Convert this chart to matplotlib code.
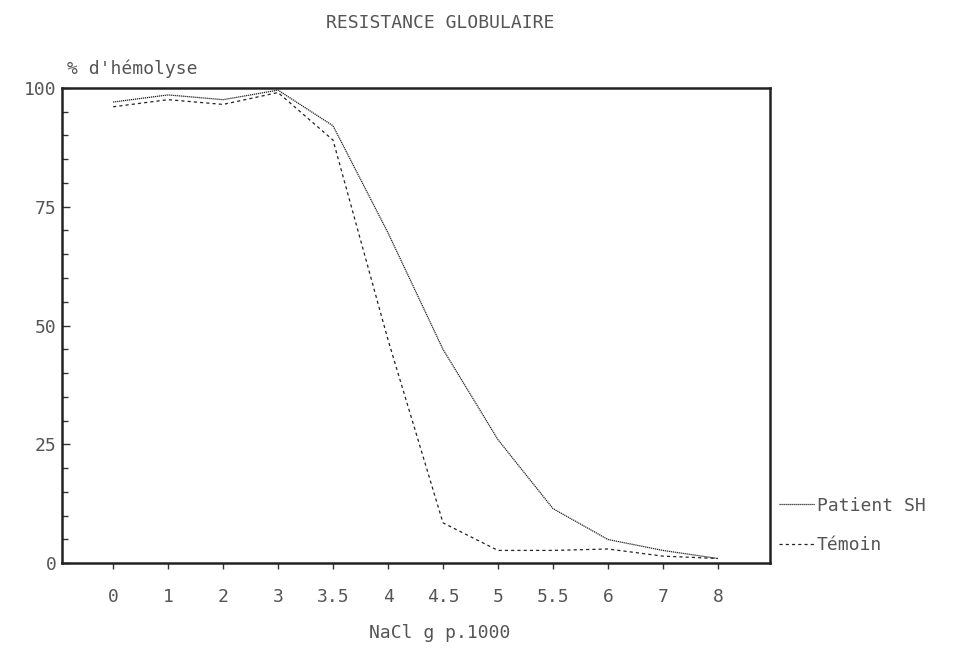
import matplotlib
matplotlib.use("Agg")
import matplotlib.pyplot as plt
from matplotlib.ticker import MultipleLocator

# NaCl concentrations (g per 1000), plotted at equal spacing as on the original
nacl_labels = ["0", "1", "2", "3", "3.5", "4", "4.5", "5", "5.5", "6", "7", "8"]
patient_sh = [97, 98.5, 97.5, 99.5, 92, 69.5, 45, 26, 11.5, 5, 2.7, 1]
temoin = [96, 97.5, 96.5, 99, 89, 47, 8.5, 2.7, 2.7, 3, 1.5, 1]

text_color = "#555555"
font = "DejaVu Sans Mono"

fig = plt.figure(figsize=(9.78, 6.65), dpi=100)
ax = fig.add_axes([0.0634, 0.153, 0.724, 0.715])

x = list(range(len(nacl_labels)))
ax.plot(x, patient_sh, color="#222222", linewidth=0.9, linestyle=(0, (1, 0.6)),
        label="Patient SH")
ax.plot(x, temoin, color="#222222", linewidth=0.9, linestyle=(0, (2.5, 2.5)),
        label="Témoin")

ax.set_xlim(-0.93, 11.95)
ax.set_ylim(0, 100)
ax.set_xticks(x)
ax.set_xticklabels(nacl_labels)
ax.set_yticks([0, 25, 50, 75, 100])
ax.yaxis.set_minor_locator(MultipleLocator(5))

for side in ax.spines.values():
    side.set_linewidth(1.8)
    side.set_color("#222222")

ax.tick_params(axis="y", which="major", direction="in", length=6, width=1,
               colors="#333333", labelcolor=text_color, labelsize=13, pad=4)
ax.tick_params(axis="y", which="minor", direction="in", length=4, width=1,
               colors="#333333")
ax.tick_params(axis="x", direction="out", length=4, width=1,
               colors="#333333", labelcolor=text_color, labelsize=13, pad=14)
for lbl in ax.get_xticklabels() + ax.get_yticklabels():
    lbl.set_family(font)

fig.text(0.45, 0.965, "RESISTANCE GLOBULAIRE", ha="center", va="center",
         color=text_color, fontsize=13, family=font)
fig.text(0.068, 0.897, "% d'hémolyse", ha="left", va="center",
         color=text_color, fontsize=13, family=font)
fig.text(0.45, 0.048, "NaCl g p.1000", ha="center", va="center",
         color=text_color, fontsize=13, family=font)

leg = ax.legend(loc="lower left", bbox_to_anchor=(1.0, 0.0), frameon=False,
                handlelength=2.0, handletextpad=0.1, labelspacing=1.2,
                borderaxespad=0.1, prop={"family": font, "size": 13})
for t in leg.get_texts():
    t.set_color(text_color)

fig.savefig("out.png", dpi=100)
